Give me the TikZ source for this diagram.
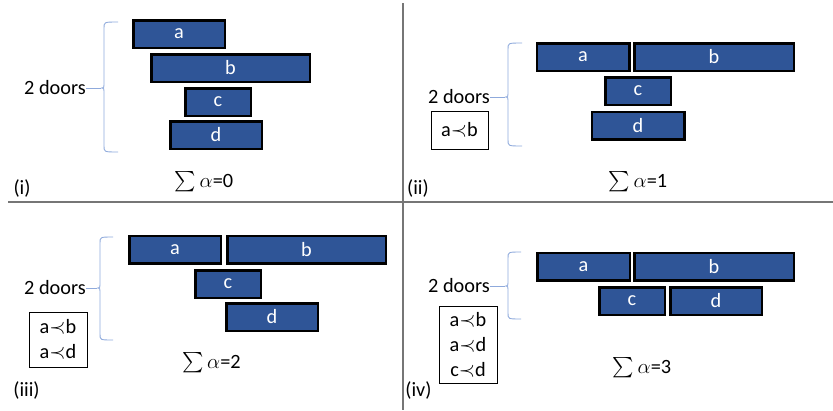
\documentclass[tikz,border=0pt]{standalone}
\usepackage{amsmath,amssymb}
\usepackage{fontspec}
\setmainfont{Carlito}
\usepackage{xcolor}
\definecolor{doorblue}{RGB}{47,85,151}
\definecolor{bracecol}{RGB}{143,170,220}
\definecolor{rulegray}{RGB}{118,118,118}

\begin{document}
\begin{tikzpicture}[x=1pt,y=1pt,
  every node/.style={inner sep=0pt,font=\fontsize{20.3}{25}\selectfont},
  door/.style={draw=black,line width=2.5pt,fill=doorblue,text=white,minimum height=27.5},
  doorA/.style={door,minimum width=91.5},
  doorB/.style={door,minimum width=158.5},
  doorC/.style={door,minimum width=65.5},
  doorD/.style={door,minimum width=91.5},
  doorbrace/.style={draw=bracecol,line width=0.9pt},
  order/.style={draw=black,line width=0.8pt,align=center},
  divider/.style={draw=rulegray,line width=1.2pt}]
\useasboundingbox (0,0) rectangle (833,-410);
% panel dividers
\draw [divider] (403,-3) -- (403,-410);
\draw [divider] (8,-202) -- (833,-202);
% (i)
\node [doorA] (a1) at (179,-34) {a};
\node [doorB] (b1) at (230.5,-68) {b};
\node [doorC] (c1) at (218,-102) {c};
\node [doorD] (d1) at (216,-135) {d};
\draw [doorbrace] (118,-22) .. controls (104,-22) .. (104,-28) -- (104,-82) .. controls (104,-88) .. (101,-88) .. controls (104,-88) .. (104,-94) -- (104,-146) .. controls (104,-152) .. (118,-152);
\coordinate (cusp1) at (101,-88);
\node [anchor=east] (doors1) at (86,-88) {2 doors};
\draw [doorbrace] (doors1.east) -- (cusp1);
\node [anchor=base] (sum1) at (204,-187) {$\sum\alpha$=0};
\node (lab1) at (22,-188) {(i)};
% (ii)
\node [doorA,minimum width=92.5] (a2) at (583,-57) {a};
\node [doorB,minimum width=159.5] (b2) at (714,-57) {b};
\node [doorC] (c2) at (638,-91) {c};
\node [doorD,minimum width=92.5] (d2) at (638,-125.5) {d};
\draw [doorbrace] (522,-43) .. controls (508,-43) .. (508,-49) -- (508,-91) .. controls (508,-97) .. (505,-97) .. controls (508,-97) .. (508,-103) -- (508,-140) .. controls (508,-146) .. (522,-146);
\coordinate (cusp2) at (505,-97);
\node [anchor=east] (doors2) at (490,-97) {2 doors};
\draw [doorbrace] (doors2.east) -- (cusp2);
\node [order,minimum width=57,minimum height=38] (order2) at (459.5,-130) {a$\prec$b};
\node [anchor=base] (sum2) at (638,-187) {$\sum\alpha$=1};
\node (lab2) at (418,-188) {(ii)};
% (iii)
\node [doorA] (a3) at (175,-249.5) {a};
\node [doorB] (b3) at (306.5,-249.5) {b};
\node [doorC] (c3) at (228,-284) {c};
\node [doorD] (d3) at (272,-317) {d};
\draw [doorbrace] (113,-237) .. controls (100,-237) .. (100,-243) -- (100,-282) .. controls (100,-288) .. (97,-288) .. controls (100,-288) .. (100,-294) -- (100,-334) .. controls (100,-340) .. (113,-340);
\coordinate (cusp3) at (97,-288);
\node [anchor=east] (doors3) at (86,-288) {2 doors};
\draw [doorbrace] (doors3.east) -- (cusp3);
\node [order,minimum width=58,minimum height=55] (order3) at (58,-339.5) {a$\prec$b\\a$\prec$d};
\node [anchor=base] (sum3) at (211.5,-368) {$\sum\alpha$=2};
\node (lab3) at (26.5,-390) {(iii)};
% (iv)
\node [doorA,minimum width=92.5] (a4) at (583.5,-266.5) {a};
\node [doorB,minimum width=159.5] (b4) at (714,-266.5) {b};
\node [doorC] (c4) at (632,-301) {c};
\node [doorD] (d4) at (716,-301) {d};
\draw [doorbrace] (521,-252) .. controls (508,-252) .. (508,-258) -- (508,-280) .. controls (508,-286) .. (505,-286) .. controls (508,-286) .. (508,-292) -- (508,-313) .. controls (508,-319) .. (521,-319);
\coordinate (cusp4) at (505,-286);
\node [anchor=east] (doors4) at (490,-286) {2 doors};
\draw [doorbrace] (doors4.east) -- (cusp4);
\node [order,minimum width=58,minimum height=77] (order4) at (468,-344.5) {a$\prec$b\\a$\prec$d\\c$\prec$d};
\node [anchor=base] (sum4) at (642,-373) {$\sum\alpha$=3};
\node (lab4) at (418.5,-390) {(iv)};
\end{tikzpicture}
\end{document}
